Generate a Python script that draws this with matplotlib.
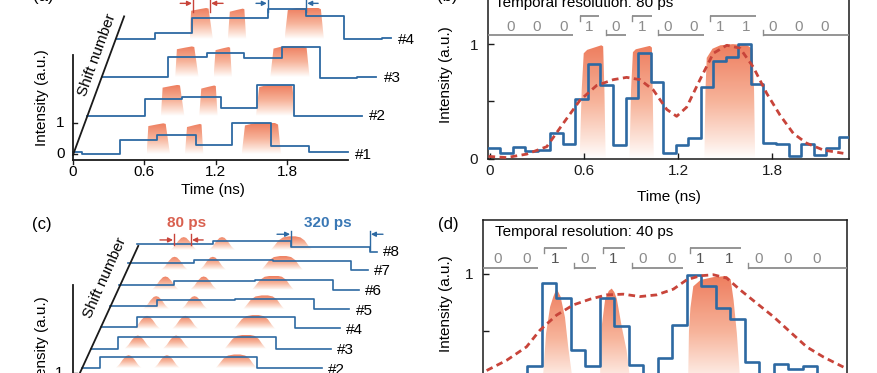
import matplotlib
matplotlib.use("Agg")
import matplotlib.pyplot as plt
import numpy as np
from matplotlib.colors import LinearSegmentedColormap
from matplotlib.patches import Polygon

plt.rcParams['font.family'] = ['Liberation Sans', 'DejaVu Sans']
plt.rcParams['font.size'] = 11

W, H = 878, 373
BLUE = '#2d69a2'
RED = '#c8443a'
GREY = '#8c8c8c'
INK = '#1a1a1a'
PULSE = LinearSegmentedColormap.from_list(
    'pulse', [(0, '#ffffff'), (0.15, '#fde7de'), (0.5, '#f7b49b'), (1, '#ee7e5f')])
GRAD = np.linspace(0, 1, 256).reshape(-1, 1)

# ---------------- (a) 320 ps traces, each shifted by 80 ps
A_EDGES = [
    [0, 0.075, 0.395, 0.71, 1.03, 1.34, 1.66, 1.98, 2.31],
    [0, 0.485, 0.80, 1.12, 1.43, 1.74, 2.31],
    [0, 0.558, 0.886, 1.197, 1.516, 1.835, 2.15, 2.31],
    [0, 0.328, 0.637, 1.278, 1.597, 1.916, 2.233, 2.31],
]
A_VALS = [
    [0.08, 0.0, 0.45, 0.61, 0.29, 1.0, 0.26, 0.06],
    [0.0, 0.53, 0.60, 0.24, 0.98, 0.0],
    [0.0, 0.65, 0.79, 0.61, 0.97, -0.02, 0.02],
    [0.0, 0.19, 0.68, 0.95, 0.73, 0.0, 0.03],
]
A_PULSE_T = [
    [0.619, 0.633, 0.70, 0.759, 0.779, 0.815],
    [0.941, 0.958, 1.02, 1.067, 1.08, 1.095],
    [1.418, 1.445, 1.53, 1.697, 1.723, 1.748],
]
A_PULSE_V = [
    [0.0, 0.90, 0.95, 0.99, 0.97, 0.0],
    [0.0, 0.87, 0.93, 0.97, 0.95, 0.0],
    [0.0, 0.92, 1.0, 1.0, 0.95, 0.0],
]
A_TICKS = [0, 0.6, 1.2, 1.8]

# ---------------- (b) 80 ps resolution
B_EDGES = [-0.013] + [round(0.065 + 0.08 * j, 3) for j in range(28)] + [2.291]
B_VALS = [0.09, 0.05, 0.10, 0.065, 0.08, 0.22, 0.13, 0.52, 0.83, 0.64, 0.12, 0.53,
          0.92, 0.67, 0.05, 0.12, 0.18, 0.63, 0.85, 0.89, 1.0, 0.65, 0.14, 0.13,
          0.02, 0.13, 0.03, 0.09, 0.19]
B_RED_T = [-0.01, 0.106, 0.234, 0.362, 0.468, 0.574, 0.681, 0.787, 0.872, 0.957,
           1.042, 1.128, 1.191, 1.255, 1.340, 1.425, 1.511, 1.595, 1.68, 1.766,
           1.851, 1.936, 2.021, 2.127, 2.255]
B_RED_V = [0.02, 0.01, 0.04, 0.105, 0.31, 0.51, 0.64, 0.69, 0.71, 0.69, 0.60, 0.43,
           0.37, 0.45, 0.69, 0.92, 0.99, 0.965, 0.80, 0.57, 0.38, 0.22, 0.135, 0.076,
           0.047]
B_PULSE_T = [
    [0.572, 0.585, 0.598, 0.62, 0.71, 0.722, 0.73, 0.738],
    [0.89, 0.90, 0.912, 0.93, 1.02, 1.033, 1.038, 1.045],
    [1.368, 1.375, 1.383, 1.42, 1.47, 1.55, 1.64, 1.675, 1.685, 1.692],
]
B_PULSE_V = [
    [0, 0.6, 0.92, 0.95, 0.99, 0.98, 0.6, 0],
    [0, 0.6, 0.93, 0.955, 0.985, 0.97, 0.6, 0],
    [0, 0.6, 0.88, 0.96, 0.99, 1.0, 0.99, 0.96, 0.6, 0],
]
B_BITS = [0, 0, 0, 1, 0, 1, 0, 0, 1, 1, 0, 0, 0]

# ---------------- (c) 320 ps traces, each shifted by 40 ps
C_EDGES = [
    [0, 0.033, 0.351, 0.669, 0.97],
    [0, 0.072, 0.390, 0.708, 0.97],
    [0, 0.108, 0.428, 0.748, 0.97],
    [0, 0.148, 0.468, 0.787, 0.97],
    [0, 0.191, 0.507, 0.827, 0.97],
    [0, 0.223, 0.551, 0.867, 0.97],
    [0, 0.267, 0.586, 0.902, 0.97],
    [0, 0.306, 0.622, 0.942, 0.97],
]
C_VALS = [
    [0.0, 0.72, 0.72, 0.0],
    [0.0, 0.73, 0.73, 0.0],
    [0.0, 0.75, 0.75, 0.0],
    [0.1, 0.77, 0.77, 0.04],
    [0.19, 0.59, 0.66, 0.0],
    [0.33, 0.55, 0.66, 0.0],
    [0.45, 0.63, 0.57, 0.0],
    [0.43, 0.61, 0.21, -0.1],
]
C_PULSE_T = [
    [0.135, 0.15, 0.165, 0.178, 0.188, 0.198, 0.211, 0.226, 0.241],
    [0.29, 0.305, 0.32, 0.333, 0.343, 0.353, 0.366, 0.381, 0.396],
    [0.54, 0.555, 0.572, 0.59, 0.615, 0.64, 0.66, 0.677, 0.692, 0.707],
]
C_PULSE_V = [
    [0, 0.25, 0.6, 0.82, 0.87, 0.82, 0.6, 0.25, 0],
    [0, 0.25, 0.6, 0.82, 0.87, 0.82, 0.6, 0.25, 0],
    [0, 0.3, 0.65, 0.85, 0.92, 0.92, 0.85, 0.65, 0.3, 0],
]

# ---------------- (d) 40 ps resolution
D_EDGES = [0.0] + [round(0.042 + 0.04 * j, 3) for j in range(24)] + [1.003]
D_VALS = [0.05, 0.08, 0.06, 0.19, 0.92, 0.79, 0.33, 0.19, 0.79, 0.54, 0.20, 0.05,
          0.26, 0.55, 0.99, 0.89, 0.70, 0.60, 0.23, 0.05, 0.21, 0.17, 0.19, 0.05,
          0.1]
D_RED_T = [0.010, 0.065, 0.12, 0.157, 0.203, 0.249, 0.295, 0.341, 0.387, 0.433,
           0.479, 0.525, 0.562, 0.599, 0.635, 0.672, 0.709, 0.755, 0.801, 0.847,
           0.893, 0.939, 0.994]
D_RED_V = [0.153, 0.242, 0.36, 0.506, 0.638, 0.727, 0.777, 0.815, 0.821, 0.80,
           0.815, 0.865, 0.947, 0.982, 0.991, 0.962, 0.859, 0.741, 0.624, 0.491,
           0.359, 0.271, 0.183]
D_PULSE_T = [
    [0.155, 0.166, 0.174, 0.185, 0.194, 0.203, 0.214, 0.226, 0.235, 0.245, 0.26],
    [0.318, 0.323, 0.327, 0.337, 0.347, 0.355, 0.362, 0.369, 0.383, 0.396, 0.404, 0.415],
    [0.562, 0.566, 0.568, 0.572, 0.58, 0.60, 0.635, 0.672, 0.683, 0.691, 0.70, 0.708, 0.715],
]
D_PULSE_V = [
    [0, 0.12, 0.48, 0.71, 0.80, 0.87, 0.80, 0.62, 0.36, 0.12, 0],
    [0, 0.12, 0.53, 0.78, 0.85, 0.87, 0.84, 0.78, 0.53, 0.33, 0.12, 0],
    [0, 0.12, 0.5, 0.7, 0.89, 0.945, 0.97, 0.98, 0.95, 0.77, 0.48, 0.12, 0],
]
D_BITS = [0, 0, 1, 0, 1, 0, 0, 1, 1, 0, 0, 0]


def px_axes(fig, x0, y0, x1, y1):
    return fig.add_axes([x0 / W, 1 - y1 / H, (x1 - x0) / W, (y1 - y0) / H])


def gradfill(ax, ts, vs, dx=0.0, dy=0.0, z=1):
    x = np.asarray(ts) + dx
    y = np.asarray(vs) + dy
    poly = Polygon(np.column_stack([x, y]), closed=True, fc='none', ec='none')
    ax.add_patch(poly)
    im = ax.imshow(GRAD, extent=(x.min(), x.max(), dy, y.max()), origin='lower',
                   cmap=PULSE, vmin=0, vmax=1, aspect='auto', zorder=z,
                   interpolation='bilinear')
    im.set_clip_path(poly)


def steps(edges, vals):
    return np.repeat(edges, 2)[1:-1], np.repeat(vals, 2)


def bit_line(ax, bits, t0, T, lo, hi, ytxt, xl, dark_ones=False):
    b = t0 + T * np.arange(len(bits) + 1)
    gap = 0.12 * T
    i = 0
    while i < len(bits):
        j = i
        while j + 1 < len(bits) and bits[j + 1] == bits[i]:
            j += 1
        s = b[i] + gap if i > 0 else xl[0]
        e = b[j + 1] - gap if j < len(bits) - 1 else xl[1]
        lev = hi if bits[i] else lo
        ax.plot([s, e], [lev, lev], color=GREY, lw=1.3, solid_capstyle='butt', zorder=3)
        if i > 0:
            ax.plot([s, s], [lev, lev + (lo - hi) * 0.25 * (1 if bits[i] else -1)],
                    color=GREY, lw=1.0, zorder=3)
        i = j + 1
    for k, v in enumerate(bits):
        c = '#555555' if (dark_ones and v) else GREY
        ax.text((b[k] + b[k + 1]) / 2, ytxt, str(v), ha='center', va='center',
                color=c, fontsize=11, zorder=3)


def frame(ax):
    for s in ax.spines.values():
        s.set_linewidth(1.1)
        s.set_color(INK)
    ax.tick_params(direction='in', length=4, width=1.0, colors=INK, labelsize=11)


fig = plt.figure(figsize=(W / 100, H / 100), dpi=100)

# ======== (a)
axa = px_axes(fig, 0, 0, 440, 200)
axa.axis('off')
A_DX, A_DY = 0.12, 1.24
for k in reversed(range(4)):
    z = 2 + (3 - k) * 2
    for pt, pv in zip(A_PULSE_T, A_PULSE_V):
        gradfill(axa, pt, pv, k * A_DX, k * A_DY, z)
    x, y = steps(A_EDGES[k], A_VALS[k])
    axa.plot(x + k * A_DX, y + k * A_DY, color=BLUE, lw=1.3, zorder=z + 1)
    axa.text(2.37 + k * A_DX, k * A_DY - 0.03, f'#{k + 1}', ha='left', va='center',
             fontsize=11)
axa.plot([0, 0], [-0.19, 3.19], color=INK, lw=1.3, zorder=20)
axa.plot([0, 2.31], [-0.19, -0.19], color=INK, lw=1.3, zorder=20)
axa.plot([0, 3.58 * A_DX], [-0.03, 3.58 * A_DY], color=INK, lw=1.3, zorder=20)
for t in A_TICKS:
    axa.plot([t, t], [-0.19, -0.32], color=INK, lw=1.0)
    axa.text(t, -0.58, f'{t:g}', ha='center', va='center', fontsize=11)
for v in [0, 1]:
    axa.plot([0, 0.035], [v, v], color=INK, lw=1.0)
    axa.text(-0.07, v, str(v), ha='right', va='center', fontsize=11)
axa.text(1.176, -1.16, 'Time (ns)', ha='center', va='center', fontsize=11)
axa.text(-0.26, 1.83, 'Intensity (a.u.)', rotation=90, ha='center', va='center',
         fontsize=11)
axa.text(0.2, 3.19, 'Shift number', rotation=70, ha='center', va='center', fontsize=11)
for xv, c in [(1.01, RED), (1.151, RED), (1.639, BLUE), (1.958, BLUE)]:
    axa.plot([xv, xv], [4.58, 5.1], color=c, lw=1.0)
for tail, tip, c in [(0.901, 1.0, RED), (1.261, 1.161, RED),
                     (1.538, 1.629, BLUE), (2.06, 1.968, BLUE)]:
    axa.annotate('', xy=(tip, 4.86), xytext=(tail, 4.86),
                 arrowprops=dict(arrowstyle='-|>', color=c, lw=1.0,
                                 mutation_scale=7, shrinkA=0, shrinkB=0))
axa.set_xlim(-73 / 119, 367 / 119)
axa.set_ylim(-46 / 31, 154 / 31)

# ======== (c)
axc = px_axes(fig, 0, 200, 440, 400)
axc.axis('off')
C_DX, C_DY = 0.0372, 1.313
for k in reversed(range(8)):
    z = 2 + (7 - k) * 2
    for pt, pv in zip(C_PULSE_T, C_PULSE_V):
        gradfill(axc, pt, pv, k * C_DX, k * C_DY, z)
    x, y = steps(C_EDGES[k], C_VALS[k])
    axc.plot(x + k * C_DX, y + k * C_DY, color=BLUE, lw=1.2, zorder=z + 1)
    axc.text(0.995 + k * C_DX, k * C_DY - 0.1, f'#{k + 1}', ha='left', va='center',
             fontsize=11)
axc.plot([0, 0], [-1, 6.87], color=INK, lw=1.3, zorder=30)
axc.plot([0, 7.1 * C_DX], [0, 7.1 * C_DY + 0.15], color=INK, lw=1.3, zorder=30)
axc.plot([0, 0.015], [1, 1], color=INK, lw=1.0, zorder=30)
axc.text(-0.04, 1, '1', ha='right', va='center', fontsize=11)
axc.text(-0.125, 2.87, 'Intensity (a.u.)', rotation=90, ha='center', va='center',
         fontsize=11)
axc.text(0.13, 7.33, 'Shift number', rotation=66, ha='center', va='center', fontsize=11)
axc.text(0.46, 11.0, '80 ps', color='#d9604f', fontweight='bold', ha='center',
         va='center', fontsize=11)
axc.text(1.03, 11.0, '320 ps', color='#3a78b5', fontweight='bold', ha='center',
         va='center', fontsize=11)
for xv, y0, y1, c in [(0.409, 9.5, 10.25, RED), (0.478, 9.5, 10.25, RED),
                      (0.883, 9.45, 10.45, BLUE), (1.202, 9.2, 10.45, BLUE)]:
    axc.plot([xv, xv], [y0, y1], color=c, lw=1.0, zorder=40)
for tail, tip, yv, c in [(0.352, 0.405, 9.87, RED), (0.527, 0.482, 9.87, RED),
                         (0.826, 0.879, 10.25, BLUE), (1.255, 1.206, 10.25, BLUE)]:
    axc.annotate('', xy=(tip, yv), xytext=(tail, yv),
                 arrowprops=dict(arrowstyle='-|>', color=c, lw=1.0,
                                 mutation_scale=7, shrinkA=0, shrinkB=0))
axc.set_xlim(-73 / 247, 367 / 247)
axc.set_ylim(-12 / 15, 188 / 15)

# ======== (b)
axb = px_axes(fig, 488, -9.7, 849, 158.7)
for pt, pv in zip(B_PULSE_T, B_PULSE_V):
    gradfill(axb, pt, pv, z=1)
x, y = steps(B_EDGES, B_VALS)
axb.plot(x, y, color=BLUE, lw=1.9, zorder=4)
axb.plot(B_RED_T, B_RED_V, color=RED, lw=2.0, dashes=(2.4, 1.6), zorder=5)
bit_line(axb, B_BITS, 0.05, 0.167, 1.081, 1.247, 1.149, (-0.013, 2.291))
axb.text(0.02, 0.927, 'Temporal resolution: 80 ps', transform=axb.transAxes,
         ha='left', va='center', fontsize=11)
axb.set_xlim(-0.013, 2.291)
axb.set_ylim(0, 1.47)
axb.set_xticks([0, 0.6, 1.2, 1.8], ['0', '0.6', '1.2', '1.8'])
axb.set_yticks([0, 0.5, 1], ['0', '', '1'])
frame(axb)
axb.tick_params(axis='x', pad=4)
axb.tick_params(axis='y', pad=7)
axb.set_xlabel('Time (ns)', fontsize=11)
axb.xaxis.set_label_coords(0.5, -31 / 168.4)
axb.set_ylabel('Intensity (a.u.)', fontsize=11)
axb.yaxis.set_label_coords(-35 / 361, 0.5)

# ======== (d)
axd = px_axes(fig, 483, 220, 846.7, 388)
for pt, pv in zip(D_PULSE_T, D_PULSE_V):
    gradfill(axd, pt, pv, z=1)
x, y = steps(D_EDGES, D_VALS)
axd.plot(x, y, color=BLUE, lw=1.9, zorder=4)
axd.plot(D_RED_T, D_RED_V, color=RED, lw=2.0, dashes=(2.4, 1.6), zorder=5)
bit_line(axd, D_BITS, 0.0, 0.08, 1.05, 1.227, 1.13, (0.0, 1.003), dark_ones=True)
axd.text(0.033, 0.927, 'Temporal resolution: 40 ps', transform=axd.transAxes,
         ha='left', va='center', fontsize=11)
axd.set_xlim(0, 1.003)
axd.set_ylim(0, 1.47)
axd.set_xticks([0, 0.3, 0.6, 0.9])
axd.set_yticks([0, 0.5, 1], ['0', '', '1'])
frame(axd)
axd.tick_params(axis='y', pad=7)
axd.set_ylabel('Intensity (a.u.)', fontsize=11)
axd.yaxis.set_label_coords(-30 / 364, 0.5)

for lab, xp, yp in [('(a)', 33, -4), ('(b)', 437, -4), ('(c)', 32, 225), ('(d)', 438, 225)]:
    fig.text(xp / W, 1 - yp / H, lab, ha='left', va='center', fontsize=12)

fig.savefig('out.png', dpi=100)
